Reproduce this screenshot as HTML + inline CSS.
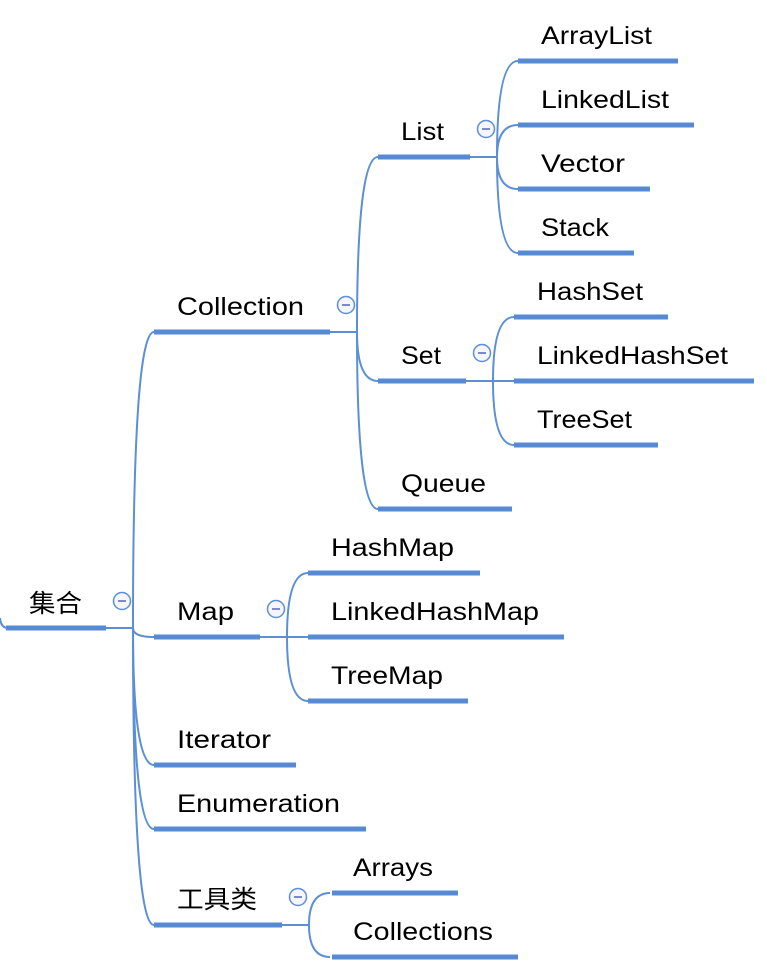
<!DOCTYPE html>
<html><head><meta charset="utf-8"><style>
html,body{margin:0;padding:0;background:#fff;}
svg{display:block;}
text{font-family:"Liberation Sans","Noto Sans CJK SC",sans-serif;font-size:25px;fill:#000;}
.u{stroke:#568bd3;stroke-width:5;}
.c{stroke:#5b8fd6;stroke-width:2;fill:none;}
.m{fill:#f6f6fa;stroke:#5b8fd6;stroke-width:1.5;}
.mm{stroke:#7a8cc8;stroke-width:2;}
</style></head><body>
<svg width="767" height="964" viewBox="0 0 767 964" xmlns="http://www.w3.org/2000/svg">
<path class="c" d="M0,618 Q1,628 8,628"/>
<path class="c" d="M106,628 L133,628"/>
<path class="c" d="M133,628 Q133,332 154,332"/>
<path class="c" d="M133,628 Q133,637 154,637"/>
<path class="c" d="M133,628 Q133,765 154,765"/>
<path class="c" d="M133,628 Q133,829 154,829"/>
<path class="c" d="M133,628 Q133,925 154,925"/>

<path class="c" d="M330,332 L357,332"/>
<path class="c" d="M357,332 Q357,157 378,157"/>
<path class="c" d="M357,332 Q357,381 378,381"/>
<path class="c" d="M357,332 Q357,509 378,509"/>

<path class="c" d="M470,157 L497,157"/>
<path class="c" d="M497,157 Q497,61 518,61"/>
<path class="c" d="M497,157 Q497,125 518,125"/>
<path class="c" d="M497,157 Q497,189 518,189"/>
<path class="c" d="M497,157 Q497,253 518,253"/>

<path class="c" d="M466,381 L493,381"/>
<path class="c" d="M493,381 Q493,317 514,317"/>
<path class="c" d="M493,381 L514,381"/>
<path class="c" d="M493,381 Q493,445 514,445"/>

<path class="c" d="M260,637 L287,637"/>
<path class="c" d="M287,637 Q287,573 308,573"/>
<path class="c" d="M287,637 L308,637"/>
<path class="c" d="M287,637 Q287,701 308,701"/>

<path class="c" d="M282,925 L309,925"/>
<path class="c" d="M309,925 Q309,893 330,893"/>
<path class="c" d="M309,925 Q309,957 330,957"/>

<line class="u" x1="6" y1="628" x2="106" y2="628"/>
<line class="u" x1="154" y1="332" x2="330" y2="332"/>
<line class="u" x1="154" y1="637" x2="260" y2="637"/>
<line class="u" x1="154" y1="765" x2="296" y2="765"/>
<line class="u" x1="154" y1="829" x2="366" y2="829"/>
<line class="u" x1="154" y1="925" x2="282" y2="925"/>
<line class="u" x1="378" y1="157" x2="470" y2="157"/>
<line class="u" x1="378" y1="381" x2="466" y2="381"/>
<line class="u" x1="378" y1="509" x2="512" y2="509"/>
<line class="u" x1="518" y1="61" x2="678" y2="61"/>
<line class="u" x1="518" y1="125" x2="694" y2="125"/>
<line class="u" x1="518" y1="189" x2="650" y2="189"/>
<line class="u" x1="518" y1="253" x2="634" y2="253"/>
<line class="u" x1="514" y1="317" x2="668" y2="317"/>
<line class="u" x1="514" y1="381" x2="754" y2="381"/>
<line class="u" x1="514" y1="445" x2="658" y2="445"/>
<line class="u" x1="308" y1="573" x2="480" y2="573"/>
<line class="u" x1="308" y1="637" x2="564" y2="637"/>
<line class="u" x1="308" y1="701" x2="468" y2="701"/>
<line class="u" x1="332" y1="893" x2="458" y2="893"/>
<line class="u" x1="332" y1="957" x2="518" y2="957"/>

<text x="29" y="612" textLength="53" lengthAdjust="spacingAndGlyphs">集合</text>
<text x="177" y="315" textLength="127" lengthAdjust="spacingAndGlyphs">Collection</text>
<text x="177" y="620" textLength="57" lengthAdjust="spacingAndGlyphs">Map</text>
<text x="177" y="748" textLength="94" lengthAdjust="spacingAndGlyphs">Iterator</text>
<text x="177" y="812" textLength="163" lengthAdjust="spacingAndGlyphs">Enumeration</text>
<text x="177" y="908" textLength="80" lengthAdjust="spacingAndGlyphs">工具类</text>
<text x="401" y="140" textLength="43" lengthAdjust="spacingAndGlyphs">List</text>
<text x="401" y="364" textLength="40" lengthAdjust="spacingAndGlyphs">Set</text>
<text x="401" y="492" textLength="85" lengthAdjust="spacingAndGlyphs">Queue</text>
<text x="541" y="44" textLength="111" lengthAdjust="spacingAndGlyphs">ArrayList</text>
<text x="541" y="108" textLength="128" lengthAdjust="spacingAndGlyphs">LinkedList</text>
<text x="541" y="172" textLength="84" lengthAdjust="spacingAndGlyphs">Vector</text>
<text x="541" y="236" textLength="68" lengthAdjust="spacingAndGlyphs">Stack</text>
<text x="537" y="300" textLength="106" lengthAdjust="spacingAndGlyphs">HashSet</text>
<text x="537" y="364" textLength="191" lengthAdjust="spacingAndGlyphs">LinkedHashSet</text>
<text x="537" y="428" textLength="95" lengthAdjust="spacingAndGlyphs">TreeSet</text>
<text x="331" y="556" textLength="123" lengthAdjust="spacingAndGlyphs">HashMap</text>
<text x="331" y="620" textLength="208" lengthAdjust="spacingAndGlyphs">LinkedHashMap</text>
<text x="331" y="684" textLength="112" lengthAdjust="spacingAndGlyphs">TreeMap</text>
<text x="353" y="876" textLength="80" lengthAdjust="spacingAndGlyphs">Arrays</text>
<text x="353" y="940" textLength="140" lengthAdjust="spacingAndGlyphs">Collections</text>

<g>
<circle class="m" cx="122" cy="601" r="8.5"/><line class="mm" x1="118" y1="601" x2="126" y2="601"/>
<circle class="m" cx="346" cy="305" r="8.5"/><line class="mm" x1="342" y1="305" x2="350" y2="305"/>
<circle class="m" cx="486" cy="129" r="8.5"/><line class="mm" x1="482" y1="129" x2="490" y2="129"/>
<circle class="m" cx="482" cy="353" r="8.5"/><line class="mm" x1="478" y1="353" x2="486" y2="353"/>
<circle class="m" cx="276" cy="609" r="8.5"/><line class="mm" x1="272" y1="609" x2="280" y2="609"/>
<circle class="m" cx="298" cy="897" r="8.5"/><line class="mm" x1="294" y1="897" x2="302" y2="897"/>
</g>
</svg>
</body></html>
